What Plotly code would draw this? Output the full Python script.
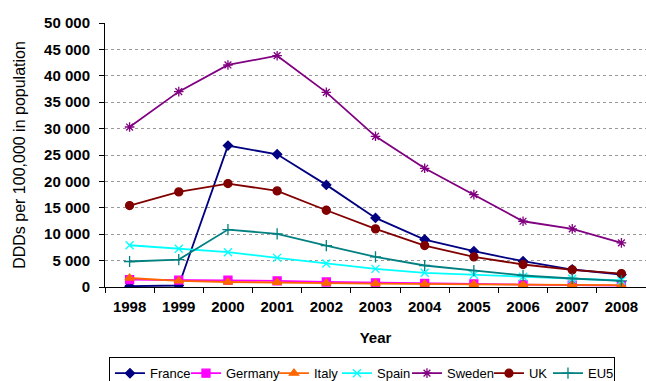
import plotly.graph_objects as go

years = [1998, 1999, 2000, 2001, 2002, 2003, 2004, 2005, 2006, 2007, 2008]
france = [150, 280, 26780, 25130, 19340, 13090, 8990, 6780, 4880, 3310, 2370]
germany = [1400, 1300, 1300, 1150, 950, 800, 700, 600, 450, 350, 250]
italy = [1700, 1150, 950, 900, 750, 650, 550, 500, 450, 400, 350]
spain = [7910, 7230, 6590, 5520, 4450, 3440, 2690, 2310, 1930, 1550, 1230]
sweden = [30300, 37000, 42050, 43810, 36870, 28540, 22480, 17500, 12450, 11010, 8360]
uk = [15420, 18010, 19590, 18200, 14540, 11010, 7850, 5710, 4260, 3250, 2550]
eu5 = [4830, 5200, 10880, 10060, 7850, 5710, 4070, 3120, 2180, 1610, 1170]

# name, values, colour, symbol, size, legend text width
series = [
    ("France", france, "#000080", "diamond", 7, 31),
    ("Germany", germany, "#FF00FF", "square", 8, 43),
    ("Italy", italy, "#FF6600", "triangle-up", 8, 18),
    ("Spain", spain, "#00FFFF", "x-thin-open", 8, 25),
    ("Sweden", sweden, "#800080", "asterisk-open", 8, 37),
    ("UK", uk, "#800000", "circle", 8, 14),
    ("EU5", eu5, "#008080", "cross-thin-open", 8, 21),
]

fig = go.Figure()
for name, vals, color, sym, size, lw in series:
    fig.add_trace(go.Scatter(
        x=years, y=vals, name=name, mode="lines+markers",
        line=dict(color=color, width=1.8),
        marker=dict(symbol=sym, size=size, color=color,
                    line=dict(color=color, width=1.3)),
        legendwidth=lw,
    ))

font_family = "Liberation Sans, Arial, sans-serif"

fig.update_layout(
    width=646, height=400,
    margin=dict(l=105, r=0, t=23, b=112.5),
    paper_bgcolor="white", plot_bgcolor="white",
    separators=". ",
    font=dict(family=font_family, color="black"),
    showlegend=True,
    legend=dict(
        orientation="h", x=0.475, xanchor="center", y=-0.266, yanchor="top",
        bordercolor="black", borderwidth=1, font=dict(size=13, family=font_family),
        itemwidth=30, tracegroupgap=0, itemclick=False,
    ),
    xaxis=dict(
        range=[1997.5, 2008.5], tickvals=years, ticktext=[str(y) for y in years],
        ticks="outside", ticklen=6, tickcolor="rgba(0,0,0,0)",
        tickfont=dict(size=15, family=font_family, weight="bold"),
        showline=True, linecolor="black", linewidth=1, showgrid=False, zeroline=False,
        automargin=False,
        minor=dict(tickvals=[y + 0.5 for y in [1997] + years], ticks="outside",
                   ticklen=5, tickcolor="black", showgrid=False),
        title=dict(text="Year", font=dict(size=15, family=font_family, weight="bold"), standoff=18),
    ),
    yaxis=dict(
        range=[0, 50000], dtick=5000, tickformat=",d",
        ticks="outside", ticklen=5, tickcolor="black", ticklabelstandoff=6,
        tickfont=dict(size=15, family=font_family, weight="bold"),
        showline=True, linecolor="black", linewidth=1,
        showgrid=True, gridcolor="#999999", griddash="dot", gridwidth=1,
        zeroline=False, automargin=False,
        title=dict(text="DDDs per 100,000 in population", font=dict(size=16, family=font_family), standoff=14),
    ),
)

fig.write_html("out.html", config={"displayModeBar": False},
               post_script="document.body.style.margin='0px';document.body.style.overflow='hidden';")
